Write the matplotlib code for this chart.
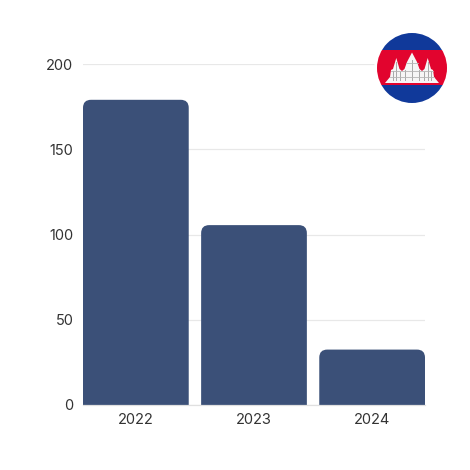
import matplotlib
matplotlib.use("Agg")
import matplotlib.pyplot as plt
from matplotlib.patches import Circle, PathPatch, Polygon, Rectangle
from matplotlib.path import Path

# values
years = ["2022", "2023", "2024"]
values = [179, 105.5, 32.5]
y_ticks = [0, 50, 100, 150, 200]

BAR_COLOR = "#3b5078"
W = 470

plt.rcParams["font.family"] = ["Inter", "DejaVu Sans"]

fig = plt.figure(figsize=(4.7, 4.7), dpi=100)
ax = fig.add_axes([83 / W, (W - 405) / W, 342 / W, 341 / W])

x_pos = range(len(years))
bars = ax.bar(x_pos, values, width=0.895, color=BAR_COLOR, zorder=2)
ax.set_xlim(-0.4475, 2.4475)
ax.set_ylim(0, 200)

# swap the square bars for ones with rounded top corners
rx = 8 / 118
ry = 8 / 341 * 200
for bar in bars:
    x0, x1 = bar.get_x(), bar.get_x() + bar.get_width()
    top = bar.get_height()
    verts = [(x0, 0), (x0, top - ry), (x0, top), (x0 + rx, top), (x1 - rx, top),
             (x1, top), (x1, top - ry), (x1, 0), (x0, 0)]
    codes = [Path.MOVETO, Path.LINETO, Path.CURVE3, Path.CURVE3, Path.LINETO,
             Path.CURVE3, Path.CURVE3, Path.LINETO, Path.CLOSEPOLY]
    ax.add_patch(PathPatch(Path(verts, codes), facecolor=BAR_COLOR, edgecolor="none", zorder=2))
    bar.set_visible(False)

ax.set_xticks(list(x_pos))
ax.set_xticklabels(years)
ax.set_yticks(y_ticks)
ax.tick_params(axis="both", length=0, labelsize=10.5, labelcolor="#333333")
ax.tick_params(axis="x", pad=6)
ax.tick_params(axis="y", pad=7)
ax.grid(axis="y", color="#e8e8e8", linewidth=0.9, zorder=0)
ax.set_axisbelow(True)
for side in ["top", "right", "left"]:
    ax.spines[side].set_visible(False)
ax.spines["bottom"].set_color("#e0e0e0")
ax.spines["bottom"].set_linewidth(0.9)

# Cambodian flag badge, in pixel coordinates of the image
flag = fig.add_axes([0, 0, 1, 1], facecolor="none")
flag.set_xlim(0, W)
flag.set_ylim(W, 0)
flag.axis("off")
flag.add_patch(Circle((412, 68), 37, color="white", zorder=1))
clip = Circle((412, 68), 35, transform=flag.transData)
bands = [(33, 17, "#10399a"), (50, 35, "#e2042e"), (85, 18, "#10399a")]
for y, h, c in bands:
    band = Rectangle((370, y), 84, h, color=c, zorder=2, linewidth=0)
    flag.add_patch(band)
    band.set_clip_path(clip)

left_half = [(385, 83), (390, 77), (391, 70), (393, 69), (396.3, 58), (399.5, 69),
             (402, 71), (404.5, 69), (407, 62), (412, 52.5)]
right_half = [(2 * 412 - x, y) for x, y in reversed(left_half[:-1])]
flag.add_patch(Polygon(left_half + right_half, closed=True, facecolor="#f6f6f6",
                       edgecolor="none", zorder=3))
# stonework shading
for x, y0, y1 in [(393, 71, 80), (396.3, 62, 80), (400, 72, 80), (405, 70, 80), (412, 60, 80),
                  (419, 70, 80), (424, 72, 80), (427.7, 62, 80), (431, 71, 80)]:
    flag.plot([x, x], [y0, y1], color="#a8a8a8", linewidth=0.7, zorder=4)
flag.plot([391, 433], [71, 71], color="#b5b5b5", linewidth=0.6, zorder=4)
flag.plot([390, 434], [77, 77], color="#b5b5b5", linewidth=0.6, zorder=4)
flag.plot([406, 418], [63, 63], color="#b5b5b5", linewidth=0.6, zorder=4)

fig.savefig("out.png", dpi=100, facecolor="white")
